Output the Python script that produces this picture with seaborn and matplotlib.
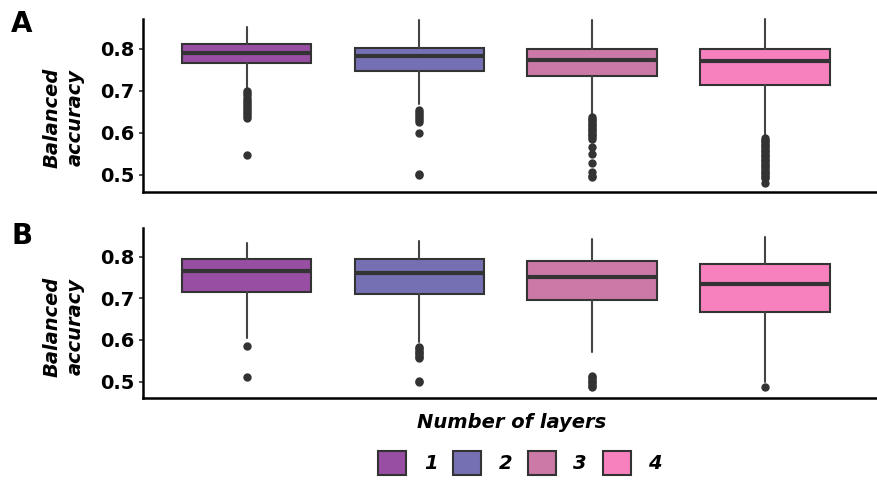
import matplotlib
matplotlib.use("Agg")
import matplotlib.pyplot as plt
from matplotlib.patches import Patch
import seaborn as sns

# ── data ─────────────────────────────────────────────────────────
layers = ["1", "2", "3", "4"]
colors = ["#984EA3", "#7570B3", "#CC79A7", "#F781BF"]

# panel A
a_med = [0.790, 0.782, 0.774, 0.770]
a_q1 = [0.766, 0.748, 0.736, 0.714]
a_q3 = [0.812, 0.803, 0.800, 0.799]
a_lo = [0.703, 0.668, 0.642, 0.592]
a_hi = [0.853, 0.869, 0.869, 0.871]
a_out1 = [0.699, 0.694, 0.689, 0.684, 0.679, 0.674, 0.669, 0.664, 0.659,
          0.654, 0.649, 0.644, 0.639, 0.635, 0.547]
a_out2 = [0.655, 0.650, 0.645, 0.640, 0.635, 0.630, 0.626, 0.600, 0.501, 0.499]
a_out3 = [0.638, 0.634, 0.630, 0.626, 0.622, 0.618, 0.614, 0.610, 0.606,
          0.602, 0.598, 0.594, 0.590, 0.586, 0.567, 0.550, 0.528, 0.506,
          0.497, 0.494]
a_out4 = [0.588, 0.584, 0.580, 0.576, 0.572, 0.568, 0.564, 0.560, 0.556,
          0.552, 0.548, 0.544, 0.540, 0.536, 0.532, 0.528, 0.524, 0.520,
          0.516, 0.512, 0.508, 0.504, 0.500, 0.496, 0.492, 0.481]

# panel B
b_med = [0.766, 0.760, 0.751, 0.734]
b_q1 = [0.716, 0.710, 0.695, 0.666]
b_q3 = [0.795, 0.795, 0.790, 0.782]
b_lo = [0.604, 0.594, 0.572, 0.500]
b_hi = [0.832, 0.837, 0.842, 0.848]
b_out1 = [0.586, 0.511]
b_out2 = [0.584, 0.580, 0.576, 0.572, 0.568, 0.564, 0.560, 0.556, 0.502, 0.499]
b_out3 = [0.514, 0.510, 0.506, 0.502, 0.498, 0.494, 0.490, 0.486]
b_out4 = [0.487]

yticks = [0.5, 0.6, 0.7, 0.8]

sns.set_theme(style="white")
plt.rcParams["font.family"] = ["DejaVu Sans"]
plt.rcParams["text.color"] = "black"
plt.rcParams["ytick.color"] = "black"

W, H = 877, 482
fig = plt.figure(figsize=(W / 100, H / 100), dpi=100)


def make_stats(med, q1, q3, lo, hi, outs):
    return [dict(med=m, q1=a, q3=b, whislo=l, whishi=h, fliers=f, label=n)
            for m, a, b, l, h, f, n in zip(med, q1, q3, lo, hi, outs, layers)]


def draw_panel(rect, stats, ylim, ylab_y):
    ax = fig.add_axes(rect)
    bp = ax.bxp(stats, positions=range(len(stats)), widths=0.75,
                patch_artist=True, showcaps=False,
                boxprops=dict(edgecolor="#333333", linewidth=1.5),
                medianprops=dict(color="#333333", linewidth=3),
                whiskerprops=dict(color="#444444", linewidth=1.5),
                flierprops=dict(marker="o", markersize=5,
                                markerfacecolor="#333333",
                                markeredgecolor="#333333"))
    for patch, c in zip(bp["boxes"], colors):
        patch.set_facecolor(c)
    for w in bp["whiskers"]:
        w.set_clip_on(False)
    ax.set_xlim(-0.6, 3.65)
    ax.set_ylim(*ylim)
    ax.set_xticks([])
    ax.set_yticks(yticks)
    ax.set_yticklabels([f"{t:.1f}" for t in yticks],
                       fontsize=14, fontweight="bold", color="black")
    ax.tick_params(axis="y", left=True, length=3, width=1.2, color="#333333",
                   pad=3)
    sns.despine(ax=ax)
    for s in ("left", "bottom"):
        ax.spines[s].set_color("black")
        ax.spines[s].set_linewidth(1.8)
    ax.set_ylabel("Balanced\naccuracy", fontsize=14, fontweight="bold",
                  fontstyle="italic", linespacing=1.3, color="black")
    ax.yaxis.set_label_coords(-0.079, ylab_y)
    return ax


stats_a = make_stats(a_med, a_q1, a_q3, a_lo, a_hi,
                     [a_out1, a_out2, a_out3, a_out4])
stats_b = make_stats(b_med, b_q1, b_q3, b_lo, b_hi,
                     [b_out1, b_out2, b_out3, b_out4])

left, width = 143 / W, 734 / W
ax_a = draw_panel([left, 1 - 191.7 / H, width, 172.7 / H], stats_a,
                  (0.46, 0.871), 0.427)
ax_b = draw_panel([left, 1 - 398.3 / H, width, 170 / H], stats_b,
                  (0.46, 0.868), 0.421)

fig.text(22 / W, 1 - 24 / H, "A", fontsize=20, fontweight="bold",
         ha="center", va="center")
fig.text(22 / W, 1 - 236 / H, "B", fontsize=20, fontweight="bold",
         ha="center", va="center")

fig.text(512 / W, 1 - 423 / H, "Number of layers", fontsize=14,
         fontweight="bold", fontstyle="italic", ha="center", va="center")

handles = [Patch(facecolor=c, edgecolor="#333333", linewidth=1.5)
           for c in colors]
fig.legend(handles, layers, loc="center", bbox_to_anchor=(520 / W, 1 - 463 / H),
           ncol=4, frameon=False, handlelength=1.45, handleheight=1.45,
           handletextpad=0.9, columnspacing=0.8,
           prop=dict(size=14, weight="bold", style="italic"))

fig.savefig("out.png", dpi=100)
